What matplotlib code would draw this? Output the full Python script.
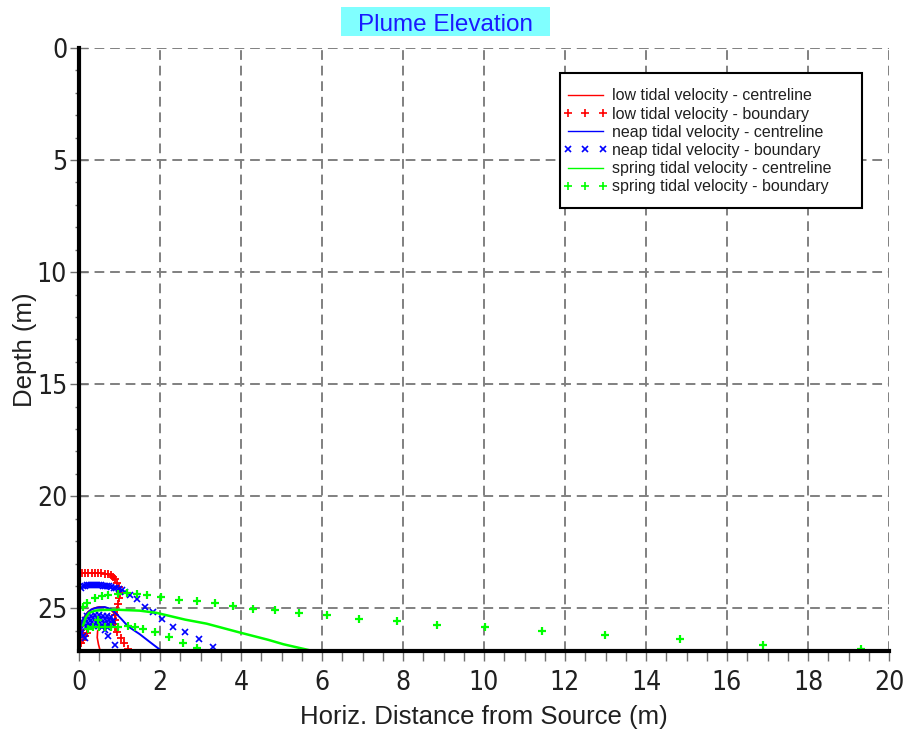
import matplotlib
matplotlib.use("Agg")
import matplotlib.pyplot as plt
from matplotlib import font_manager
from matplotlib.patches import Rectangle
from matplotlib.ticker import MultipleLocator

# --- data (depth in m, horizontal distance in m) ---
red_cl_x = [0.05, 0.12, 0.22, 0.35, 0.5, 0.65, 0.78, 0.88, 0.92, 0.85, 0.7, 0.55, 0.46, 0.45, 0.48, 0.52]
red_cl_d = [25.7, 25.4, 25.15, 25.0, 24.93, 24.95, 25.05, 25.25, 25.45, 25.62, 25.75, 25.85, 26.0, 26.3, 26.6, 26.87]

red_bnd_x = [0.0, 0.07, 0.15, 0.23, 0.31, 0.39, 0.47, 0.55, 0.63, 0.71, 0.78, 0.85, 0.9, 0.95,
             0.99, 1.01, 0.99, 0.96, 0.93, 0.9, 0.88, 0.86, 0.9, 0.95, 1.04, 1.12, 1.21,
             0.02, 0.05, 0.09, 0.14, 0.19, 0.1, 0.06]
red_bnd_d = [23.42, 23.41, 23.4, 23.4, 23.4, 23.41, 23.42, 23.43, 23.45, 23.48, 23.53, 23.6, 23.7, 23.85,
             24.03, 24.3, 24.55, 24.8, 25.05, 25.3, 25.5, 25.7, 25.85, 26.05, 26.3, 26.55, 26.82,
             25.8, 25.98, 26.12, 26.22, 26.1, 26.4, 26.55]

blue_cl_x = [0.05, 0.1, 0.2, 0.3, 0.45, 0.63, 0.78, 0.9, 1.05, 1.21, 1.5, 1.75, 2.02]
blue_cl_d = [25.8, 25.5, 25.22, 25.05, 24.96, 24.94, 25.02, 25.2, 25.48, 25.8, 26.15, 26.5, 26.87]

blue_bnd_x = [0.05, 0.1, 0.15, 0.2, 0.25, 0.3, 0.35, 0.4, 0.45, 0.5, 0.55, 0.6, 0.65, 0.7, 0.75,
              0.8, 0.86, 0.92, 0.98, 1.05, 1.14, 1.26, 1.42, 1.63, 1.83, 2.06, 2.31, 2.61, 2.96, 3.31,
              0.2, 0.3, 0.4, 0.5, 0.6, 0.7, 0.8, 0.15, 0.25, 0.35, 0.45, 0.55, 0.65, 0.75, 0.85,
              0.12, 0.22, 0.32, 0.42, 0.52, 0.62, 0.72, 0.82, 0.18, 0.28, 0.38, 0.48, 0.58, 0.68,
              0.03, 0.06, 0.1, 0.14, 0.64, 0.72, 0.88]
blue_bnd_d = [24.08, 24.02, 23.99, 23.97, 23.96, 23.96, 23.96, 23.96, 23.96, 23.97, 23.97, 23.98, 23.99, 24.0, 24.02,
              24.04, 24.07, 24.1, 24.14, 24.19, 24.25, 24.38, 24.6, 24.92, 25.17, 25.47, 25.83, 26.07, 26.37, 26.73,
              25.35, 25.32, 25.3, 25.3, 25.32, 25.35, 25.4, 25.5, 25.47, 25.45, 25.45, 25.46, 25.48, 25.52, 25.55,
              25.65, 25.63, 25.62, 25.62, 25.63, 25.65, 25.68, 25.7, 25.82, 25.8, 25.8, 25.8, 25.82, 25.85,
              25.95, 26.1, 26.22, 26.3, 25.95, 26.25, 26.62]

green_cl_x = [0.1, 0.17, 0.25, 0.4, 0.6, 0.96, 1.5, 1.92, 2.62, 3.15, 3.98, 4.67, 5.05, 5.7]
green_cl_d = [25.75, 25.4, 25.2, 25.1, 25.07, 25.06, 25.1, 25.2, 25.5, 25.68, 26.08, 26.4, 26.6, 26.87]

green_bnd_x = [0.1, 0.19, 0.4, 0.56, 0.72, 0.97, 1.18, 1.42, 1.67, 2.03, 2.47, 2.91, 3.37, 3.81, 4.3,
               4.84, 5.44, 6.13, 6.91, 7.86, 8.85, 10.03, 11.42, 12.99, 14.83, 16.9, 19.32,
               0.23, 0.35, 0.5, 0.65, 0.8, 0.97, 1.22, 1.38, 1.59, 1.88, 2.23, 2.56, 2.92, 0.47]
green_bnd_d = [24.95, 24.75, 24.52, 24.45, 24.38, 24.36, 24.3, 24.34, 24.4, 24.48, 24.61, 24.67, 24.77, 24.91, 25.01,
               25.09, 25.19, 25.3, 25.46, 25.56, 25.73, 25.83, 26.01, 26.19, 26.37, 26.63, 26.8,
               25.9, 25.84, 25.84, 25.83, 25.83, 25.82, 25.8, 25.83, 25.92, 26.07, 26.26, 26.53, 26.78, 25.5]

x_max = 20
depth_max = 26.9

# narrow font for tick labels if one is around
tick_prop = font_manager.FontProperties(family="Liberation Sans", size=17.5)
for f in font_manager.fontManager.ttflist:
    fn = f.fname.replace("\\", "/").split("/")[-1]
    if fn in ("LiberationSansNarrow-Regular.ttf", "DejaVuSansCondensed.ttf"):
        tick_prop = font_manager.FontProperties(fname=f.fname, size=19)
        break
plt.rcParams["font.family"] = ["Liberation Sans", "DejaVu Sans"]

fig = plt.figure(figsize=(9.06, 7.29), dpi=100)
ax = fig.add_axes([79 / 906, 1 - 651 / 729, 810 / 906, 603 / 729])

ax.plot(red_cl_x, red_cl_d, color="#ff0000", lw=1.2, label="low tidal velocity - centreline", zorder=3)
ax.plot(red_bnd_x, red_bnd_d, ls="none", marker="+", ms=6, mew=1.3, color="#ff0000",
        label="low tidal velocity - boundary", zorder=3)
ax.plot(blue_cl_x, blue_cl_d, color="#0000ff", lw=1.4, label="neap tidal velocity - centreline", zorder=3)
ax.plot(blue_bnd_x, blue_bnd_d, ls="none", marker="x", ms=4.5, mew=1.2, color="#0000ff",
        label="neap tidal velocity - boundary", zorder=3)
ax.plot(green_cl_x, green_cl_d, color="#00ff00", lw=1.8, label="spring tidal velocity - centreline", zorder=3)
ax.plot(green_bnd_x, green_bnd_d, ls="none", marker="+", ms=6, mew=1.6, color="#00ff00",
        label="spring tidal velocity - boundary", zorder=3)

ax.set_xlim(0, x_max)
ax.set_ylim(depth_max, 0)
ax.xaxis.set_major_locator(MultipleLocator(2))
ax.xaxis.set_minor_locator(MultipleLocator(0.5))
ax.yaxis.set_major_locator(MultipleLocator(5))
ax.yaxis.set_minor_locator(MultipleLocator(1))

ax.grid(True, which="major", color="#808080", ls=(0, (5, 3)), lw=1.4)
ax.set_axisbelow(True)

for s in ["top", "right"]:
    ax.spines[s].set_visible(False)
for s in ["left", "bottom"]:
    ax.spines[s].set_linewidth(3)
    ax.spines[s].set_color("black")
    ax.spines[s].set_zorder(4)

ax.tick_params(axis="x", which="both", direction="out", length=7, width=1, color="#707070",
               pad=7, labelcolor="#202020")
ax.tick_params(axis="y", which="major", direction="inout", length=13, width=1, color="#707070",
               pad=2, labelcolor="#202020")
ax.tick_params(axis="y", which="minor", direction="out", length=3, width=1, color="#707070")
for lab in ax.get_xticklabels() + ax.get_yticklabels():
    lab.set_fontproperties(tick_prop)

ax.set_xlabel("Horiz. Distance from Source (m)", fontsize=18.5, color="#202020")
ax.set_ylabel("Depth (m)", fontsize=18.5, color="#202020")
ax.xaxis.set_label_coords(0.5, -0.09)
ax.yaxis.set_label_coords(-0.052, 0.5)

# legend box
box = Rectangle((0.594, 0.735), 0.373, 0.2235, transform=ax.transAxes, facecolor="white",
                edgecolor="black", lw=1.5, zorder=5)
ax.add_patch(box)
leg = ax.legend(loc="upper left", bbox_to_anchor=(0.5975, 0.933), frameon=False, fontsize=11.5,
                handlelength=2.8, handletextpad=0.3, labelspacing=0.2, borderpad=0,
                borderaxespad=0, numpoints=3)
leg.set_zorder(6)
for t in leg.get_texts():
    t.set_color("#202020")
for h in leg.legend_handles:
    h.set_linewidth(1)
    h.set_markeredgewidth(1.2)

# title on cyan band
fig.patches.append(Rectangle((341 / 906, 1 - 36 / 729), 209 / 906, 29 / 729,
                             transform=fig.transFigure, facecolor="#80ffff", edgecolor="none"))
fig.text(445.5 / 906, 1 - 31 / 729, "Plume Elevation", ha="center", va="baseline",
         fontsize=17.5, color="#1a1aff")

fig.savefig("out.png", dpi=100)
